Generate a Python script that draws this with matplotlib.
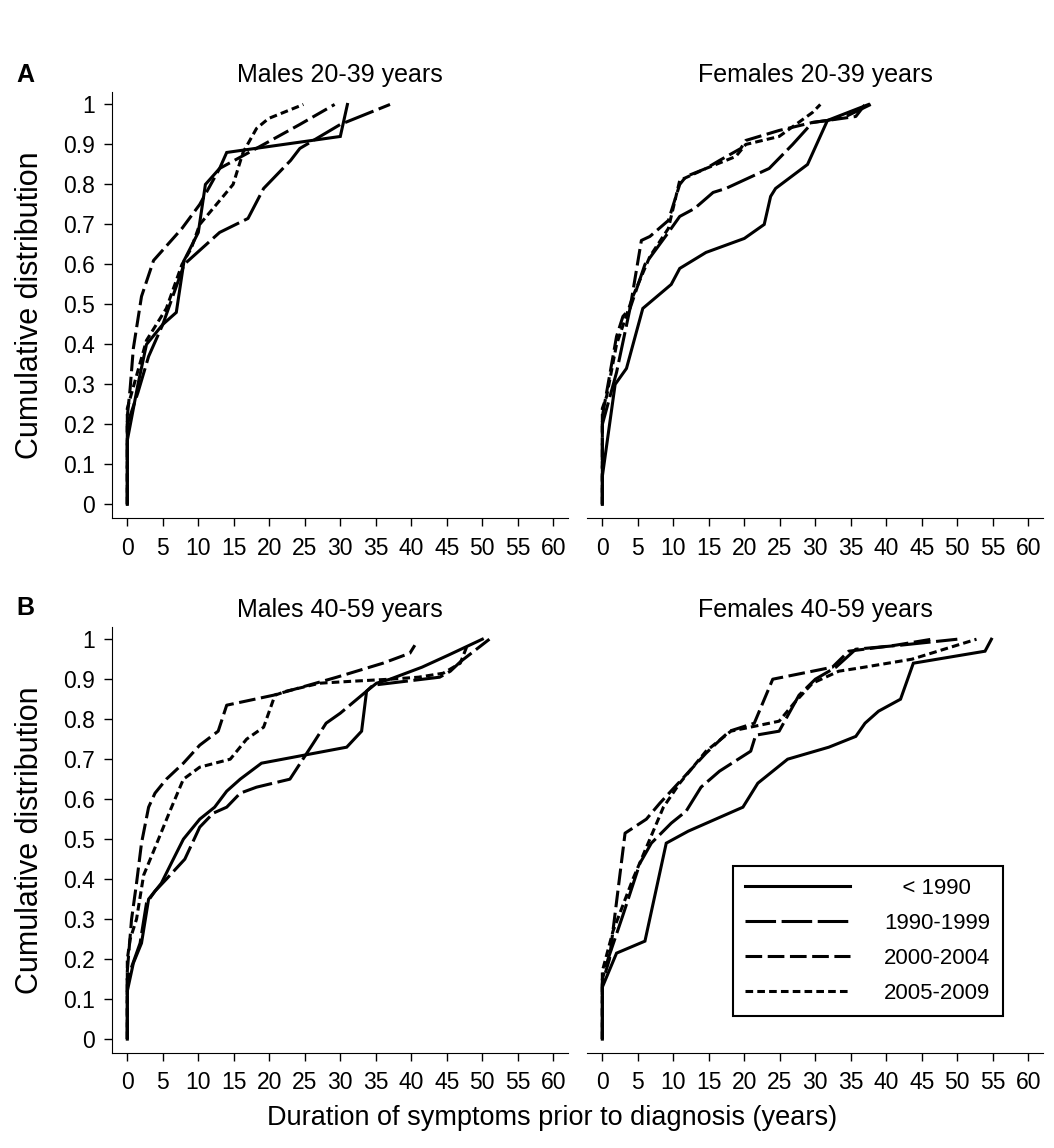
import matplotlib
matplotlib.use('Agg')
import matplotlib.pyplot as plt

plt.rcParams['font.family'] = ['Liberation Sans', 'DejaVu Sans']
plt.rcParams['lines.scale_dashes'] = False

# ---- data (years, cumulative proportion) ----
periods = ['< 1990', '1990-1999', '2000-2004', '2005-2009']

# A, left: males 20-39 years
m1_lt1990_x = [0, 0, 1.5, 2.7, 5, 6.9, 8, 10, 11, 13, 14, 30, 31]
m1_lt1990_y = [0, 0.16, 0.30, 0.40, 0.45, 0.48, 0.61, 0.68, 0.80, 0.84, 0.88, 0.92, 1.0]
m1_1990_x = [0, 0, 1.5, 3, 5, 8, 10.5, 13, 17, 19.2, 23, 24.3, 30, 37]
m1_1990_y = [0, 0.20, 0.28, 0.37, 0.45, 0.60, 0.64, 0.68, 0.715, 0.79, 0.86, 0.89, 0.95, 1.0]
m1_2000_x = [0, 0, 0.4, 0.85, 2, 3.7, 7.7, 10.2, 13, 19.2, 24.3, 29.2]
m1_2000_y = [0, 0.22, 0.29, 0.39, 0.52, 0.61, 0.69, 0.75, 0.84, 0.90, 0.95, 1.0]
m1_2005_x = [0, 0, 2.7, 5.5, 7.7, 9, 10.2, 14.9, 16.3, 18.2, 19.9, 24.8]
m1_2005_y = [0, 0.24, 0.41, 0.49, 0.60, 0.64, 0.70, 0.80, 0.88, 0.94, 0.965, 1.0]

# A, right: females 20-39 years
f1_lt1990_x = [0, 0, 1.8, 3.4, 5.7, 9.7, 10.9, 14.6, 20, 22.8, 23.7, 24.4, 28.9, 31.7, 37.5]
f1_lt1990_y = [0, 0.07, 0.30, 0.34, 0.49, 0.55, 0.59, 0.63, 0.665, 0.70, 0.77, 0.79, 0.85, 0.96, 1.0]
f1_1990_x = [0, 0, 2, 3.9, 6, 9.3, 10.9, 13, 15.6, 17.4, 23.5, 26.8, 29.6, 31.7, 34.3, 37.8]
f1_1990_y = [0, 0.20, 0.33, 0.49, 0.60, 0.68, 0.72, 0.74, 0.78, 0.79, 0.84, 0.90, 0.955, 0.96, 0.97, 1.0]
f1_2000_x = [0, 0, 0.6, 2, 2.9, 3.9, 5.5, 6.7, 9.3, 10.9, 11.8, 14.6, 16.5, 19.5, 20.2, 24.9, 29.6, 31.7, 35.7, 37]
f1_2000_y = [0, 0.22, 0.28, 0.42, 0.47, 0.49, 0.66, 0.67, 0.71, 0.80, 0.82, 0.84, 0.86, 0.89, 0.91, 0.935, 0.955, 0.96, 0.97, 1.0]
f1_2005_x = [0, 0, 0.6, 2, 4.3, 6.7, 9.3, 10.9, 14.6, 18.8, 20.2, 24.9, 29.6, 30.7]
f1_2005_y = [0, 0.24, 0.27, 0.40, 0.52, 0.62, 0.69, 0.81, 0.84, 0.87, 0.90, 0.92, 0.98, 1.0]

# B, left: males 40-59 years
m2_lt1990_x = [0, 0, 0.85, 2, 3, 4.8, 6.2, 7.9, 10.2, 12.3, 14, 15.9, 18.9, 30.9, 33, 33.7, 35.1, 37, 41.5, 45.2, 50]
m2_lt1990_y = [0, 0.12, 0.19, 0.24, 0.35, 0.39, 0.44, 0.50, 0.55, 0.58, 0.62, 0.65, 0.69, 0.73, 0.77, 0.87, 0.89, 0.90, 0.93, 0.96, 1.0]
m2_1990_x = [0, 0, 1.8, 2.7, 3.9, 5.5, 8.1, 10.2, 12.1, 14, 15.9, 18.2, 22.9, 26.2, 28, 30, 33.7, 34.6, 44, 45.5, 47, 51]
m2_1990_y = [0, 0.15, 0.24, 0.34, 0.37, 0.40, 0.45, 0.53, 0.565, 0.58, 0.615, 0.63, 0.65, 0.74, 0.79, 0.815, 0.87, 0.885, 0.905, 0.92, 0.945, 1.0]
m2_2000_x = [0, 0, 0.6, 1.3, 2, 3, 3.9, 5.5, 7.9, 10.2, 12.8, 14, 20.6, 29.5, 36, 39.8, 40.5]
m2_2000_y = [0, 0.17, 0.30, 0.39, 0.49, 0.58, 0.615, 0.65, 0.69, 0.735, 0.77, 0.835, 0.86, 0.905, 0.94, 0.965, 0.985]
m2_2005_x = [0, 0, 0.4, 1.3, 2.3, 3.7, 6, 7.9, 10.2, 14.5, 16.8, 19.2, 20.8, 22.4, 27.1, 31.8, 37, 41, 44.5, 46.9, 48]
m2_2005_y = [0, 0.20, 0.25, 0.30, 0.41, 0.47, 0.57, 0.65, 0.68, 0.70, 0.75, 0.78, 0.86, 0.87, 0.89, 0.895, 0.90, 0.905, 0.915, 0.94, 0.99]

# B, right: females 40-59 years
f2_lt1990_x = [0, 0, 2, 6, 9, 12.1, 19.8, 21.9, 26.1, 31.9, 35.7, 37, 38.9, 42, 43.8, 53.9, 54.8]
f2_lt1990_y = [0, 0.13, 0.215, 0.245, 0.49, 0.52, 0.58, 0.64, 0.70, 0.73, 0.757, 0.79, 0.82, 0.85, 0.94, 0.97, 1.0]
f2_1990_x = [0, 0, 0.8, 2.9, 5.3, 6.9, 9.7, 11.8, 13.9, 16.5, 20.9, 21.6, 24.9, 27.7, 30, 32.9, 35.7, 42, 50]
f2_1990_y = [0, 0.15, 0.20, 0.31, 0.44, 0.49, 0.54, 0.57, 0.63, 0.67, 0.72, 0.76, 0.77, 0.86, 0.90, 0.93, 0.975, 0.985, 1.0]
f2_2000_x = [0, 0, 1, 3.2, 6.2, 8.1, 10.7, 14.6, 17.9, 21.4, 24, 32.4, 34.7, 41.3, 46.4]
f2_2000_y = [0, 0.14, 0.20, 0.515, 0.55, 0.59, 0.64, 0.715, 0.77, 0.79, 0.90, 0.93, 0.97, 0.985, 1.0]
f2_2005_x = [0, 0, 1.5, 4.3, 5.5, 8.6, 10.9, 14.6, 18.1, 24.9, 27, 29.6, 33.3, 36.2, 43.6, 52.7]
f2_2005_y = [0, 0.17, 0.27, 0.40, 0.45, 0.58, 0.64, 0.72, 0.77, 0.795, 0.84, 0.89, 0.92, 0.928, 0.95, 1.0]

panel_titles = ['Males 20-39 years', 'Females 20-39 years',
                'Males 40-59 years', 'Females 40-59 years']
x_ticks = list(range(0, 61, 5))
y_ticks = [0, 0.1, 0.2, 0.3, 0.4, 0.5, 0.6, 0.7, 0.8, 0.9, 1]
y_tick_labels = ['0', '0.1', '0.2', '0.3', '0.4', '0.5', '0.6', '0.7', '0.8', '0.9', '1']

panels = [
    [(m1_lt1990_x, m1_lt1990_y), (m1_1990_x, m1_1990_y), (m1_2000_x, m1_2000_y), (m1_2005_x, m1_2005_y)],
    [(f1_lt1990_x, f1_lt1990_y), (f1_1990_x, f1_1990_y), (f1_2000_x, f1_2000_y), (f1_2005_x, f1_2005_y)],
    [(m2_lt1990_x, m2_lt1990_y), (m2_1990_x, m2_1990_y), (m2_2000_x, m2_2000_y), (m2_2005_x, m2_2005_y)],
    [(f2_lt1990_x, f2_lt1990_y), (f2_1990_x, f2_1990_y), (f2_2000_x, f2_2000_y), (f2_2005_x, f2_2005_y)],
]

styles = ['-', (0, (22, 4)), (0, (12, 4)), (0, (5.5, 3))]

fig = plt.figure(figsize=(10.54, 11.48), dpi=100)
positions = [[0.1063, 0.5488, 0.4326, 0.371], [0.557, 0.5488, 0.4326, 0.371],
             [0.1063, 0.083, 0.4326, 0.371], [0.557, 0.083, 0.4326, 0.371]]

axes = []
for i, pos in enumerate(positions):
    ax = fig.add_axes(pos)
    axes.append(ax)
    for (xs, ys), ls, lab in zip(panels[i], styles, periods):
        ax.plot(xs, ys, color='black', lw=2.2, linestyle=ls, label=lab,
                solid_joinstyle='miter', dash_capstyle='butt')
    ax.set_xlim(-2.15, 62.07)
    ax.set_ylim(-0.034, 1.031)
    ax.set_xticks(x_ticks)
    ax.set_yticks(y_ticks)
    ax.set_yticklabels(y_tick_labels)
    ax.tick_params(direction='out', length=6, width=1, labelsize=16.5)
    ax.tick_params(axis='x', pad=7.5)
    ax.tick_params(axis='y', pad=6)
    ax.spines['top'].set_visible(False)
    ax.spines['right'].set_visible(False)
    ax.set_title(panel_titles[i], fontsize=18, pad=7)
    if i % 2 == 1:
        ax.spines['left'].set_visible(False)
        ax.tick_params(axis='y', left=False, labelleft=False)
    else:
        ax.set_ylabel('Cumulative distribution', fontsize=22)
        ax.yaxis.set_label_coords(-0.147, 0.5)

fig.text(0.524, 0.026, 'Duration of symptoms prior to diagnosis (years)',
         ha='center', va='center', fontsize=19.5)
fig.text(0.024, 0.935, 'A', ha='center', va='center', fontsize=18, fontweight='bold')
fig.text(0.024, 0.47, 'B', ha='center', va='center', fontsize=18, fontweight='bold')

handles, labels = axes[3].get_legend_handles_labels()
labels[0] = '   ' + labels[0]
leg = axes[3].legend(handles, labels, loc='upper left', bbox_to_anchor=(0.6954, 0.2456),
                     bbox_transform=fig.transFigure, borderaxespad=0, fontsize=16,
                     handlelength=4.7, handletextpad=1.55, labelspacing=0.62,
                     borderpad=0.55, fancybox=False, edgecolor='black', framealpha=1)
leg.get_frame().set_linewidth(1.5)

fig.savefig('out.png', dpi=100)
